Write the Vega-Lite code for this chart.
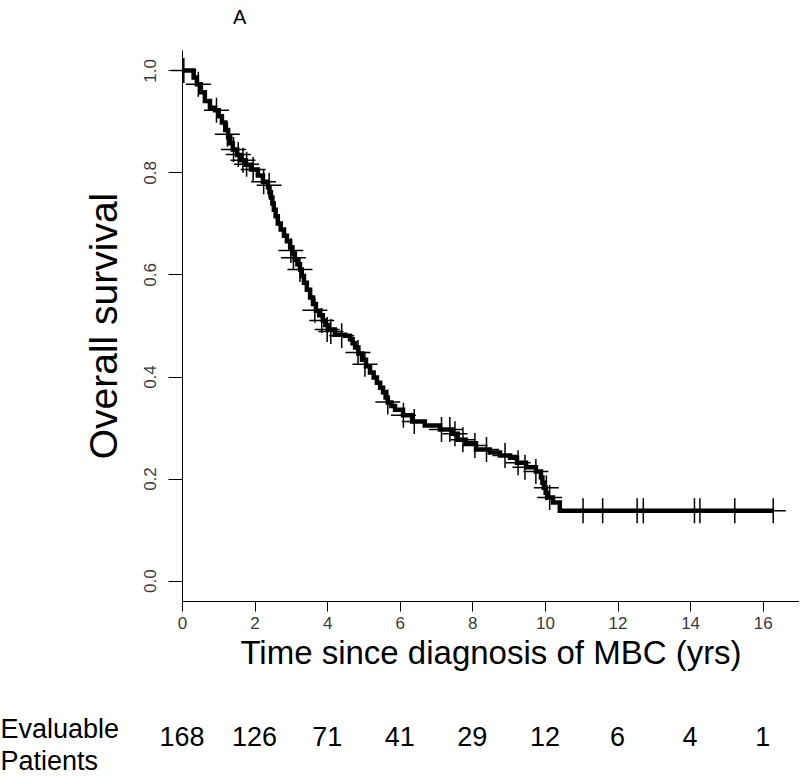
{
  "$schema": "https://vega.github.io/schema/vega-lite/v6.json",
  "padding": {"left": 0, "top": 8, "right": 0, "bottom": 0},
  "background": "white",
  "spacing": 38,
  "config": {
    "view": {"stroke": null},
    "font": "Liberation Sans",
    "axis": {"grid": false, "domainColor": "black", "tickColor": "black", "labelColor": "#3a3a3a", "titleColor": "black", "titleFontWeight": "normal", "labelFont": "Liberation Sans", "titleFont": "Liberation Sans"}
  },
  "vconcat": [
    {
      "width": 617,
      "height": 551,
      "title": {"text": "A", "anchor": "start", "frame": "group", "dx": 51, "fontSize": 20, "fontWeight": "normal", "offset": 22, "font": "Liberation Sans", "color": "black"},
      "layer": [
        {
          "data": {"values": [
            {"t": 0, "s": 1.0}, {"t": 0.22, "s": 1.0}, {"t": 0.32, "s": 0.986}, {"t": 0.41, "s": 0.973}, {"t": 0.52, "s": 0.957}, {"t": 0.63, "s": 0.94}, {"t": 0.77, "s": 0.927}, {"t": 0.91, "s": 0.922},
            {"t": 1.01, "s": 0.91}, {"t": 1.10, "s": 0.898}, {"t": 1.19, "s": 0.883}, {"t": 1.27, "s": 0.869}, {"t": 1.33, "s": 0.857}, {"t": 1.40, "s": 0.845}, {"t": 1.52, "s": 0.834}, {"t": 1.63, "s": 0.824}, {"t": 1.76, "s": 0.815}, {"t": 1.90, "s": 0.806}, {"t": 2.09, "s": 0.794},
            {"t": 2.23, "s": 0.782}, {"t": 2.37, "s": 0.771}, {"t": 2.41, "s": 0.761}, {"t": 2.45, "s": 0.751}, {"t": 2.49, "s": 0.739}, {"t": 2.53, "s": 0.727}, {"t": 2.58, "s": 0.714}, {"t": 2.64, "s": 0.700}, {"t": 2.72, "s": 0.688}, {"t": 2.81, "s": 0.676},
            {"t": 2.89, "s": 0.665}, {"t": 2.98, "s": 0.653}, {"t": 3.04, "s": 0.641}, {"t": 3.11, "s": 0.629}, {"t": 3.18, "s": 0.62}, {"t": 3.25, "s": 0.610}, {"t": 3.30, "s": 0.597}, {"t": 3.36, "s": 0.584}, {"t": 3.44, "s": 0.570}, {"t": 3.53, "s": 0.555}, {"t": 3.61, "s": 0.542}, {"t": 3.69, "s": 0.529},
            {"t": 3.78, "s": 0.52}, {"t": 3.88, "s": 0.510}, {"t": 3.95, "s": 0.501}, {"t": 4.02, "s": 0.492}, {"t": 4.21, "s": 0.482}, {"t": 4.49, "s": 0.480}, {"t": 4.63, "s": 0.473}, {"t": 4.70, "s": 0.465}, {"t": 4.77, "s": 0.457},
            {"t": 4.86, "s": 0.445}, {"t": 4.96, "s": 0.433}, {"t": 5.07, "s": 0.420}, {"t": 5.18, "s": 0.408}, {"t": 5.28, "s": 0.398}, {"t": 5.37, "s": 0.388}, {"t": 5.46, "s": 0.378}, {"t": 5.54, "s": 0.369}, {"t": 5.61, "s": 0.359}, {"t": 5.67, "s": 0.349}, {"t": 5.77, "s": 0.342}, {"t": 5.87, "s": 0.335},
            {"t": 6.09, "s": 0.324}, {"t": 6.34, "s": 0.312}, {"t": 6.69, "s": 0.304}, {"t": 7.11, "s": 0.296}, {"t": 7.44, "s": 0.288}, {"t": 7.60, "s": 0.276},
            {"t": 7.82, "s": 0.269}, {"t": 8.10, "s": 0.257}, {"t": 8.48, "s": 0.251}, {"t": 8.76, "s": 0.245}, {"t": 9.04, "s": 0.241}, {"t": 9.23, "s": 0.231},
            {"t": 9.48, "s": 0.222}, {"t": 9.75, "s": 0.214}, {"t": 9.89, "s": 0.202}, {"t": 9.93, "s": 0.192}, {"t": 9.97, "s": 0.182}, {"t": 10.02, "s": 0.172}, {"t": 10.06, "s": 0.163}, {"t": 10.22, "s": 0.153},
            {"t": 10.41, "s": 0.137}, {"t": 16.29, "s": 0.137}
          ]},
          "mark": {"type": "line", "interpolate": "step-after", "color": "black", "strokeWidth": 4.5},
          "encoding": {
            "x": {"field": "t", "type": "quantitative", "scale": {"domain": [0, 17], "nice": false, "zero": false},
              "axis": {"values": [0, 2, 4, 6, 8, 10, 12, 14, 16], "tickSize": 10, "labelFontSize": 17, "labelPadding": 4, "labelFlush": false,
                "title": "Time since diagnosis of MBC (yrs)", "titleFontSize": 33, "titlePadding": 6}},
            "y": {"field": "s", "type": "quantitative", "scale": {"domain": [-0.04, 1.04], "nice": false, "zero": false},
              "axis": {"values": [0, 0.2, 0.4, 0.6, 0.8, 1.0], "format": ".1f", "tickSize": 14, "labelFontSize": 17, "labelAngle": 270, "labelPadding": 9,
                "title": "Overall survival", "titleFontSize": 39, "titlePadding": 17}}
          }
        },
        {
          "data": {"values": [
            {"t": 0.05, "s": 1.0}, {"t": 0.45, "s": 0.973}, {"t": 0.95, "s": 0.922}, {"t": 1.25, "s": 0.875}, {"t": 1.42, "s": 0.845}, {"t": 1.55, "s": 0.835},
            {"t": 1.68, "s": 0.824}, {"t": 1.78, "s": 0.816}, {"t": 1.96, "s": 0.806}, {"t": 2.25, "s": 0.782}, {"t": 2.40, "s": 0.775}, {"t": 3.0, "s": 0.647},
            {"t": 3.07, "s": 0.633}, {"t": 3.25, "s": 0.61}, {"t": 3.66, "s": 0.53}, {"t": 3.85, "s": 0.51}, {"t": 4.0, "s": 0.492}, {"t": 4.1, "s": 0.488},
            {"t": 4.4, "s": 0.48}, {"t": 4.85, "s": 0.447}, {"t": 5.04, "s": 0.424}, {"t": 5.67, "s": 0.35}, {"t": 6.1, "s": 0.324}, {"t": 6.4, "s": 0.312},
            {"t": 7.15, "s": 0.296}, {"t": 7.38, "s": 0.296}, {"t": 7.52, "s": 0.288}, {"t": 7.74, "s": 0.276}, {"t": 8.07, "s": 0.265}, {"t": 8.39, "s": 0.257},
            {"t": 8.9, "s": 0.245}, {"t": 9.26, "s": 0.231}, {"t": 9.45, "s": 0.222}, {"t": 9.75, "s": 0.214}, {"t": 10.04, "s": 0.182}, {"t": 10.13, "s": 0.163},
            {"t": 11.05, "s": 0.137}, {"t": 11.59, "s": 0.137}, {"t": 12.54, "s": 0.137}, {"t": 12.71, "s": 0.137}, {"t": 14.12, "s": 0.137}, {"t": 14.27, "s": 0.137},
            {"t": 15.23, "s": 0.137}, {"t": 16.29, "s": 0.137}
          ]},
          "mark": {"type": "point", "shape": "M-1,0H1M0,-1V1", "size": 625, "stroke": "black", "strokeWidth": 1.5, "filled": false, "opacity": 1},
          "encoding": {
            "x": {"field": "t", "type": "quantitative"},
            "y": {"field": "s", "type": "quantitative"}
          }
        }
      ]
    },
    {
      "width": 617,
      "height": 60,
      "data": {"values": [
        {"t": 0, "n": "168", "row": "r"}, {"t": 2, "n": "126", "row": "r"}, {"t": 4, "n": "71", "row": "r"}, {"t": 6, "n": "41", "row": "r"},
        {"t": 8, "n": "29", "row": "r"}, {"t": 10, "n": "12", "row": "r"}, {"t": 12, "n": "6", "row": "r"}, {"t": 14, "n": "4", "row": "r"}, {"t": 16, "n": "1", "row": "r"}
      ]},
      "mark": {"type": "text", "fontSize": 27, "font": "Liberation Sans", "color": "black"},
      "encoding": {
        "x": {"field": "t", "type": "quantitative", "scale": {"domain": [0, 17], "nice": false, "zero": false}, "axis": null},
        "y": {"field": "row", "type": "nominal", "axis": {"title": ["Evaluable", "Patients"], "titleAngle": 0, "titleAlign": "left", "titleBaseline": "top", "titleX": -182, "titleY": 8, "titleFontSize": 27, "titleLineHeight": 32, "labels": false, "ticks": false, "domain": false}},
        "text": {"field": "n"}
      }
    }
  ]
}
